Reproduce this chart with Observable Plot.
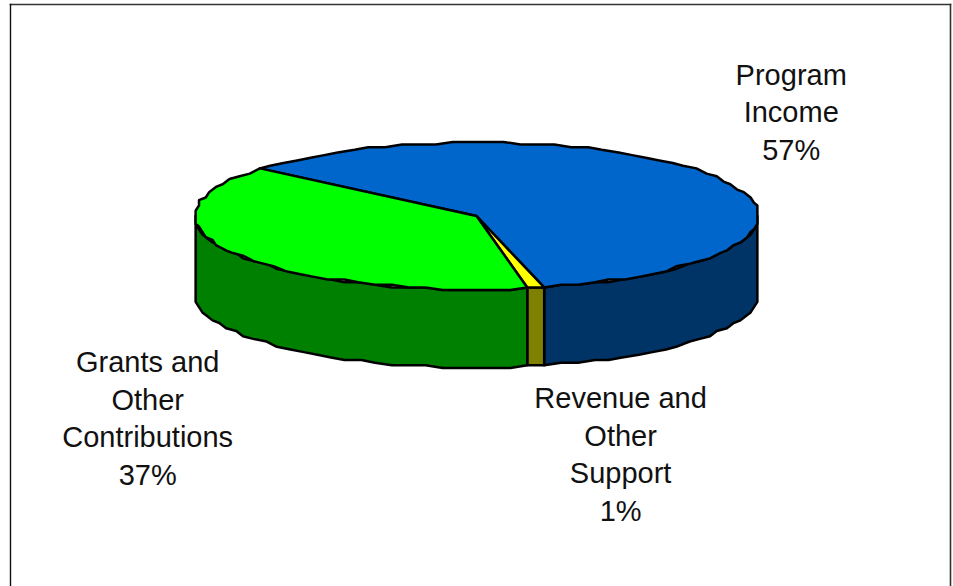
<!DOCTYPE html>
<html>
<head>
<meta charset="utf-8">
<script src="https://cdn.jsdelivr.net/npm/d3@7"></script>
<script src="https://cdn.jsdelivr.net/npm/@observablehq/plot@0.6"></script>
<style>
  html, body { margin: 0; padding: 0; background: #fff; overflow: hidden; }
  svg { display: block; }
</style>
</head>
<body>
<div id="chart"></div>
<script>
// Revenue sources, as percentages
const categories = ["Program Income", "Revenue and Other Support", "Grants and Other Contributions"];
const shares = [57, 1, 37];
const labelLines = ["Program\nIncome", "Revenue and\nOther\nSupport", "Grants and\nOther\nContributions"];
const topColors = ["#0066CC", "#FFFF00", "#00FF00"];
const wallColors = ["#003366", "#808000", "#008000"];

// Where each label sits, in the pie's own unit coordinates (disc radius = 1)
const labelX = [1.116, 0.511, -1.166];
const labelY = [-2.15, 2.25, 1.765];

// Pie geometry: the first slice starts here, clockwise on screen
const startAngle = 219.8 * Math.PI / 180;
const facet = 3.5 * Math.PI / 180;
const wallDepth = 1.06;

// The rim is snapped to a fine grid, so it reads as a slightly stepped outline
const snapX = 0.012;
const snapY = 0.036;
const stepX = v => Math.round(v / snapX) * snapX;
const stepY = v => Math.round(v / snapY) * snapY;

const pie = d3.pie().sort(null).startAngle(startAngle).endAngle(startAngle + 2 * Math.PI)(shares);

function rim(a0, a1) {
  const n = Math.max(1, Math.round((a1 - a0) / facet));
  return d3.range(n + 1).map(i => a0 + (a1 - a0) * i / n);
}

const topFaces = [];
const walls = [];
pie.forEach((arc, i) => {
  const angles = rim(arc.startAngle, arc.endAngle);
  const push = (px, py) => topFaces.push({id: i, px, py, color: topColors[i]});
  push(0, 0);
  angles.forEach(a => push(stepX(Math.cos(a)), stepY(Math.sin(a))));

  // Only the front half of the rim (sin > 0) shows a wall
  const tau = 2 * Math.PI;
  const front = [[0, Math.PI], [tau, tau + Math.PI]];
  front.forEach(([f0, f1], k) => {
    const a0 = Math.max(arc.startAngle, f0), a1 = Math.min(arc.endAngle, f1);
    if (a1 <= a0) return;
    const edge = rim(a0, a1);
    const pts = [
      ...edge.map(a => [stepX(Math.cos(a)), stepY(Math.sin(a))]),
      ...edge.slice().reverse().map(a => [stepX(Math.cos(a)), stepY(Math.sin(a)) + wallDepth])
    ];
    pts.forEach(([px, py]) => walls.push({id: `${i}-${k}`, px, py, color: wallColors[i]}));
  });
});

const labels = categories.map((name, i) => ({
  text: `${labelLines[i]}\n${shares[i]}%`,
  px: labelX[i],
  py: labelY[i]
}));

const faceOptions = {
  x: "px", y: "py", z: "id", fill: "color",
  stroke: "#000", strokeWidth: 2.5, strokeLinejoin: "round",
  curve: "linear-closed"
};

const chart = Plot.plot({
  width: 953,
  height: 586,
  marginTop: 4,
  marginLeft: 10,
  marginRight: 3,
  marginBottom: 0,
  x: {domain: [-1, 1], range: [194, 758], axis: null},
  y: {domain: [-1, 1], range: [142, 289], axis: null},
  color: {type: "identity"},
  marks: [
    Plot.frame({anchor: "top", stroke: "#333", strokeWidth: 1.6}),
    Plot.frame({anchor: "left", stroke: "#111", strokeWidth: 1.4}),
    Plot.frame({anchor: "right", stroke: "#333", strokeWidth: 1.6}),
    Plot.line(walls, faceOptions),
    Plot.line(topFaces, faceOptions),
    Plot.text(labels, {
      x: "px", y: "py", text: "text",
      textAnchor: "middle", lineAnchor: "top", lineHeight: 1.295,
      fontSize: 29, fill: "#111",
      fontFamily: "Liberation Sans, Arial, sans-serif"
    })
  ]
});

document.getElementById("chart").appendChild(chart);
</script>
</body>
</html>
